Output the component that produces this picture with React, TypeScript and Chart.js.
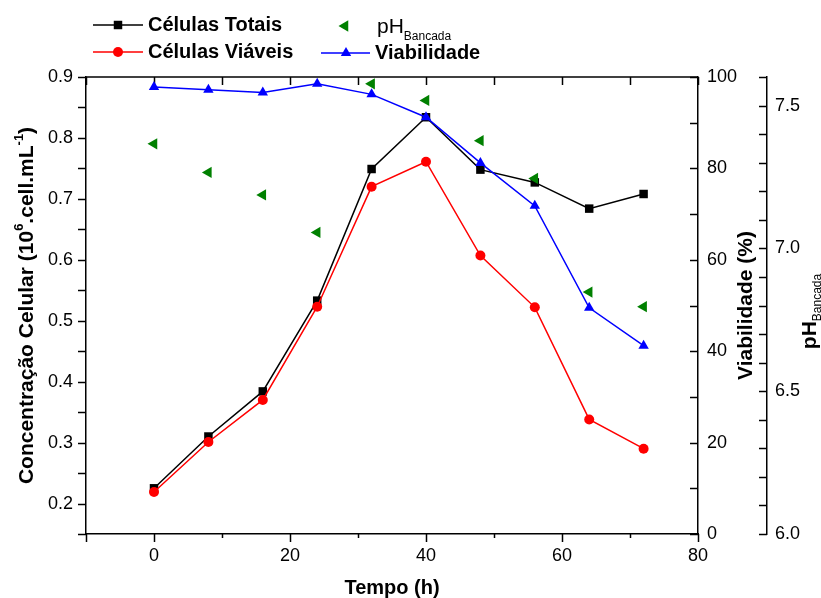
import React, { useEffect, useRef } from 'react';
import { Chart, registerables } from 'chart.js';

Chart.register(...registerables);

// ---------- data ----------
const times = [0, 8, 16, 24, 32, 40, 48, 56, 64, 72];
const celulasTotais = [0.225, 0.31, 0.384, 0.533, 0.749, 0.834, 0.748, 0.727, 0.684, 0.708];
const celulasViaveis = [0.219, 0.301, 0.37, 0.523, 0.72, 0.761, 0.607, 0.522, 0.338, 0.29];
const viabilidade = [97.8, 97.2, 96.6, 98.5, 96.2, 91.2, 81.2, 71.8, 49.5, 41.2];
const phBancada = [7.366, 7.266, 7.187, 7.056, 7.576, 7.518, 7.377, 7.245, 6.847, 6.796];

// ---------- ticks ----------
const xTickValues = [-10, 0, 10, 20, 30, 40, 50, 60, 70, 80];
const xLabelValues = [0, 20, 40, 60, 80];
const concTickValues = [0.15, 0.2, 0.25, 0.3, 0.35, 0.4, 0.45, 0.5, 0.55, 0.6, 0.65, 0.7, 0.75, 0.8, 0.85, 0.9];
const concLabelValues = [0.2, 0.3, 0.4, 0.5, 0.6, 0.7, 0.8, 0.9];
const viabTickValues = [0, 10, 20, 30, 40, 50, 60, 70, 80, 90, 100];
const viabLabelValues = [0, 20, 40, 60, 80, 100];
const phTickValues = [6.0, 6.1, 6.2, 6.3, 6.4, 6.5, 6.6, 6.7, 6.8, 6.9, 7.0, 7.1, 7.2, 7.3, 7.4, 7.5, 7.6];
const phLabelValues = [6.0, 6.5, 7.0, 7.5];

const FAMILY = '"Liberation Sans", Arial, Helvetica, sans-serif';

const has = (arr: number[], v: number) => arr.some((a) => Math.abs(a - v) < 1e-6);

type Part = { text: string; font: string; dy: number };

function drawRich(ctx: CanvasRenderingContext2D, parts: Part[], cx: number, cy: number, rotate: boolean) {
  ctx.save();
  ctx.translate(cx, cy);
  if (rotate) ctx.rotate(-Math.PI / 2);
  ctx.textBaseline = 'middle';
  ctx.textAlign = 'left';
  ctx.fillStyle = '#000';
  let total = 0;
  for (const p of parts) {
    ctx.font = p.font;
    total += ctx.measureText(p.text).width;
  }
  let x = -total / 2;
  for (const p of parts) {
    ctx.font = p.font;
    ctx.fillText(p.text, x, p.dy);
    x += ctx.measureText(p.text).width;
  }
  ctx.restore();
}

function marker(ctx: CanvasRenderingContext2D, kind: string, x: number, y: number, r: number, color: string) {
  ctx.save();
  ctx.fillStyle = color;
  ctx.beginPath();
  if (kind === 'rect') {
    const s = Math.SQRT1_2 * r;
    ctx.rect(x - s, y - s, 2 * s, 2 * s);
  } else if (kind === 'circle') {
    ctx.arc(x, y, r, 0, Math.PI * 2);
  } else if (kind === 'triangle') {
    ctx.moveTo(x, y - r);
    ctx.lineTo(x + Math.sin((2 * Math.PI) / 3) * r, y + r / 2);
    ctx.lineTo(x - Math.sin((2 * Math.PI) / 3) * r, y + r / 2);
  } else if (kind === 'triLeft') {
    ctx.moveTo(x - r, y);
    ctx.lineTo(x + r / 2, y - Math.sin((2 * Math.PI) / 3) * r);
    ctx.lineTo(x + r / 2, y + Math.sin((2 * Math.PI) / 3) * r);
  }
  ctx.closePath();
  ctx.fill();
  ctx.restore();
}

const axesPlugin = {
  id: 'originAxes',
  beforeDatasetsDraw(chart: any) {
    const { ctx, chartArea: ca, scales } = chart;
    ctx.save();
    ctx.strokeStyle = '#000';
    ctx.lineWidth = 1.5;
    const line = (x1: number, y1: number, x2: number, y2: number) => {
      ctx.beginPath();
      ctx.moveTo(x1, y1);
      ctx.lineTo(x2, y2);
      ctx.stroke();
    };
    // top frame
    line(ca.left, ca.top, ca.right, ca.top);
    const xs = scales.x;
    for (const t of xs.ticks) {
      const px = Math.round(xs.getPixelForValue(t.value)) + 0.5;
      const major = Math.abs(t.value % 20) < 1e-6 || t.value === -10;
      line(px, ca.bottom, px, ca.bottom + (major ? 8 : 4));
      line(px, ca.top, px, ca.top + 8);
    }
    const ys = scales.y;
    for (const t of ys.ticks) {
      const py = Math.round(ys.getPixelForValue(t.value)) + 0.5;
      line(ca.left - 8, py, ca.left, py);
    }
    const y1 = scales.y1;
    for (const t of y1.ticks) {
      const py = Math.round(y1.getPixelForValue(t.value)) + 0.5;
      line(ca.right - 8, py, ca.right, py);
    }
    const y2 = scales.y2;
    for (const t of y2.ticks) {
      const py = Math.round(y2.getPixelForValue(t.value)) + 0.5;
      line(y2.left - 8, py, y2.left, py);
    }
    ctx.restore();
  },
  afterDraw(chart: any) {
    const { ctx, chartArea: ca } = chart;
    const bold20 = `bold 20px ${FAMILY}`;
    const bold21 = `bold 21px ${FAMILY}`;
    const bold13 = `bold 13px ${FAMILY}`;
    const cy = (ca.top + ca.bottom) / 2;
    // left title
    drawRich(
      ctx,
      [
        { text: 'Concentração Celular (10', font: bold21, dy: 0 },
        { text: '6', font: bold13, dy: -8 },
        { text: '.cell.mL', font: bold21, dy: 0 },
        { text: '-1', font: bold13, dy: -8 },
        { text: ')', font: bold21, dy: 0 },
      ],
      27,
      cy,
      true
    );
    // right viability title
    drawRich(ctx, [{ text: 'Viabilidade (%)', font: bold21, dy: 0 }], 746, cy, true);
    // pH title
    drawRich(
      ctx,
      [
        { text: 'pH', font: bold21, dy: 0 },
        { text: 'Bancada', font: `12px ${FAMILY}`, dy: 8 },
      ],
      810,
      cy + 6,
      true
    );
    // x title
    drawRich(ctx, [{ text: 'Tempo (h)', font: bold20, dy: 0 }], (ca.left + ca.right) / 2, 588, false);

    // legend
    ctx.save();
    ctx.lineWidth = 1.5;
    const legLine = (x1: number, x2: number, y: number, color: string) => {
      ctx.strokeStyle = color;
      ctx.beginPath();
      ctx.moveTo(x1, y);
      ctx.lineTo(x2, y);
      ctx.stroke();
    };
    legLine(93, 143, 25, '#000');
    marker(ctx, 'rect', 118, 25, 6, '#000');
    legLine(93, 143, 52, '#ff0000');
    marker(ctx, 'circle', 118, 52, 5, '#ff0000');
    marker(ctx, 'triLeft', 345, 26, 6.5, '#008000');
    legLine(321, 370, 53, '#0000ff');
    marker(ctx, 'triangle', 346, 53, 6, '#0000ff');
    ctx.fillStyle = '#000';
    ctx.textBaseline = 'middle';
    ctx.textAlign = 'left';
    ctx.font = bold20;
    ctx.fillText('Células Totais', 148, 25);
    ctx.fillText('Células Viáveis', 148, 52);
    ctx.fillText('Viabilidade', 375, 53);
    ctx.font = `21px ${FAMILY}`;
    ctx.fillText('pH', 377, 27);
    const w = ctx.measureText('pH').width;
    ctx.font = `12px ${FAMILY}`;
    ctx.fillText('Bancada', 377 + w, 37);
    ctx.restore();
  },
};

export default function App() {
  const ref = useRef<HTMLCanvasElement | null>(null);
  useEffect(() => {
    if (!ref.current) return;
    const tickFont = { family: FAMILY, size: 18 };
    const grid = { display: true, drawOnChartArea: false, drawTicks: false };
    const border = { display: true, color: '#000', width: 1.5 };
    const mk = (vals: number[]) => vals.map((x, i) => ({ x: times[i], y: x }));
    const chart = new Chart(ref.current, {
      type: 'line',
      data: {
        datasets: [
          {
            label: 'Viabilidade',
            data: mk(viabilidade),
            yAxisID: 'y1',
            borderColor: '#0000ff',
            backgroundColor: '#0000ff',
            borderWidth: 1.5,
            pointStyle: 'triangle',
            pointRadius: 6,
            pointBorderWidth: 0,
            order: 0,
          },
          {
            label: 'pH Bancada',
            data: mk(phBancada),
            yAxisID: 'y2',
            showLine: false,
            borderColor: '#008000',
            backgroundColor: '#008000',
            pointStyle: 'triangle',
            rotation: -90,
            pointRadius: 6.5,
            pointBorderWidth: 0,
            order: 1,
          },
          {
            label: 'Células Viáveis',
            data: mk(celulasViaveis),
            yAxisID: 'y',
            borderColor: '#ff0000',
            backgroundColor: '#ff0000',
            borderWidth: 1.5,
            pointStyle: 'circle',
            pointRadius: 5,
            pointBorderWidth: 0,
            order: 2,
          },
          {
            label: 'Células Totais',
            data: mk(celulasTotais),
            yAxisID: 'y',
            borderColor: '#000000',
            backgroundColor: '#000000',
            borderWidth: 1.5,
            pointStyle: 'rect',
            pointRadius: 6,
            pointBorderWidth: 0,
            order: 3,
          },
        ],
      },
      options: {
        responsive: false,
        animation: false,
        devicePixelRatio: 1,
        layout: { padding: { top: 77, left: 0, right: 0, bottom: 0 } },
        plugins: { legend: { display: false }, tooltip: { enabled: false } },
        scales: {
          x: {
            type: 'linear',
            position: 'bottom',
            min: -10,
            max: 80,
            afterBuildTicks: (s: any) => {
              s.ticks = xTickValues.map((v) => ({ value: v }));
            },
            afterFit: (s: any) => {
              s.height = 64;
            },
            ticks: {
              autoSkip: false,
              maxRotation: 0,
              padding: 11,
              color: '#000',
              font: tickFont,
              callback: (v: any) => (has(xLabelValues, Number(v)) ? String(v) : ''),
            },
            grid,
            border,
          },
          y: {
            type: 'linear',
            position: 'left',
            min: 0.15,
            max: 0.9,
            afterBuildTicks: (s: any) => {
              s.ticks = concTickValues.map((v) => ({ value: v }));
            },
            afterFit: (s: any) => {
              s.width = 86;
            },
            ticks: {
              autoSkip: false,
              padding: 13,
              color: '#000',
              font: tickFont,
              callback: (v: any) => (has(concLabelValues, Number(v)) ? Number(v).toFixed(1) : ''),
            },
            grid,
            border,
          },
          y1: {
            type: 'linear',
            position: 'right',
            weight: 0,
            min: 0,
            max: 100,
            afterBuildTicks: (s: any) => {
              s.ticks = viabTickValues.map((v) => ({ value: v }));
            },
            afterFit: (s: any) => {
              s.width = 69;
            },
            ticks: {
              autoSkip: false,
              padding: 9,
              color: '#000',
              font: tickFont,
              callback: (v: any) => (has(viabLabelValues, Number(v)) ? String(v) : ''),
            },
            grid,
            border,
          },
          y2: {
            type: 'linear',
            position: 'right',
            weight: 1,
            min: 6.0,
            max: 7.6,
            afterBuildTicks: (s: any) => {
              s.ticks = phTickValues.map((v) => ({ value: v }));
            },
            afterFit: (s: any) => {
              s.width = 54;
            },
            ticks: {
              autoSkip: false,
              padding: 8,
              color: '#000',
              font: tickFont,
              callback: (v: any) => (has(phLabelValues, Number(v)) ? Number(v).toFixed(1) : ''),
            },
            grid,
            border,
          },
        },
      } as any,
      plugins: [axesPlugin],
    });
    return () => chart.destroy();
  }, []);

  return (
    <div style={{ position: 'fixed', left: 0, top: 0, width: 821, height: 598, background: '#fff' }}>
      <canvas ref={ref} width={821} height={598} style={{ display: 'block', width: 821, height: 598 }} />
    </div>
  );
}
